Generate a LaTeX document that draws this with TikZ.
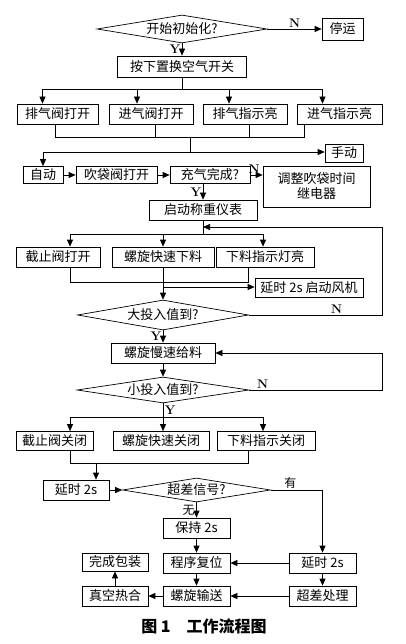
\documentclass[tikz,border=0pt]{standalone}
\usepackage{fontspec}
\newfontfamily\cjk{Noto Sans CJK SC}
\usetikzlibrary{arrows.meta,shapes.geometric}

\begin{document}
\begin{tikzpicture}[->,>={Triangle[length=7pt,width=6pt]},x=1pt,y=-1pt,line width=0.7pt,font=\cjk\fontsize{13}{15}\selectfont]
\tikzstyle{proc}=[draw,rectangle,inner sep=0pt,minimum height=20pt]
\tikzstyle{cond}=[draw,diamond,inner sep=0pt,aspect=1]
\tikzstyle{yn}=[font=\bfseries\fontsize{12.5}{13}\selectfont,inner sep=1.5pt]
\useasboundingbox (0,0) rectangle (405,644);
\node[cond,minimum width=170pt,minimum height=28pt,label={center:开始初始化?}] (init) at (182,29) {};
\node[proc,minimum width=41pt,minimum height=22pt] (stop) at (342.5,29) {停运};
\node[proc,minimum width=129pt,minimum height=21pt] (swap) at (182,66.5) {按下置换空气开关};
\node[proc,minimum width=81pt] (exhopen) at (57.5,114) {排气阀打开};
\node[proc,minimum width=84pt] (inopen) at (151,114) {进气阀打开};
\node[proc,minimum width=84pt] (exhlamp) at (245,114) {排气指示亮};
\node[proc,minimum width=85pt] (inlamp) at (339.5,114) {进气指示亮};
\node[proc,minimum width=38pt,minimum height=18pt] (manual) at (344,153) {手动};
\node[proc,minimum width=40pt,minimum height=17pt] (auto) at (43,175) {自动};
\node[proc,minimum width=81pt,minimum height=17pt] (blow) at (116.5,175) {吹袋阀打开};
\node[proc,minimum width=80pt,minimum height=17pt] (inflate) at (210,175) {充气完成?};
\node[proc,minimum width=107pt,minimum height=41pt,align=center] (adjust) at (316.5,186.5) {调整吹袋时间\\继电器};
\node[proc,minimum width=108pt] (weigh) at (203,210) {启动称重仪表};
\node[proc,minimum width=84pt] (cutopen) at (58,257) {截止阀打开};
\node[proc,minimum width=102pt] (fastfeed) at (163,257) {螺旋快速下料};
\node[proc,minimum width=98pt] (feedlamp) at (265,257) {下料指示灯亮};
\node[proc,minimum width=108pt,minimum height=19pt] (fan) at (309,287.5) {延时 2s 启动风机};
\node[cond,minimum width=171pt,minimum height=30pt,label={center:大投入值到?}] (bigdose) at (163,315) {};
\node[proc,minimum width=104pt] (slowfeed) at (163,353) {螺旋慢速给料};
\node[cond,minimum width=172pt,minimum height=26pt,label={center:小投入值到?}] (smalldose) at (163,390) {};
\node[proc,minimum width=77pt,minimum height=19pt] (cutclose) at (54.5,441) {截止阀关闭};
\node[proc,minimum width=96pt,minimum height=19pt] (fastclose) at (161,441) {螺旋快速关闭};
\node[proc,minimum width=98pt,minimum height=19pt] (lampoff) at (266,441) {下料指示关闭};
\node[proc,minimum width=66pt] (delayA) at (76,490) {延时 2s};
\node[cond,minimum width=148pt,minimum height=24pt,label={center:超差信号?}] (overerr) at (196.5,490) {};
\node[proc,minimum width=67pt] (hold) at (196.5,528) {保持 2s};
\node[proc,minimum width=67pt] (reset) at (196.5,563) {程序复位};
\node[proc,minimum width=67pt] (delayB) at (322.5,563) {延时 2s};
\node[proc,minimum width=67pt] (errproc) at (322.5,596) {超差处理};
\node[proc,minimum width=67pt] (convey) at (196.5,596) {螺旋输送};
\node[proc,minimum width=66pt] (seal) at (115,596) {真空热合};
\node[proc,minimum width=66pt,minimum height=18pt] (pack) at (115,562) {完成包装};
\node[font=\cjk\bfseries\fontsize{16}{18}\selectfont] (title) at (204,626) {图 1\quad 工作流程图};
% start and air switch
\draw (init) -- node[yn,above]{N} (stop);
\draw (init) -- node[yn,left]{Y} (swap);
\coordinate (splitA) at (182,89);
\draw[-] (swap) -- (splitA);
\draw (splitA) -| ([xshift=-15pt]exhopen.north);
\draw (splitA) -| ([xshift=-14pt]inopen.north);
\draw (splitA) -| ([xshift=-16pt]exhlamp.north);
\draw (splitA) -| ([xshift=-17pt]inlamp.north);
\coordinate (joinA) at (190,137);
\draw[-] ([xshift=-2pt]exhopen.south) |- (joinA);
\draw[-] ([xshift=4pt]inopen.south) |- (joinA);
\draw[-] ([xshift=4pt]exhlamp.south) |- (joinA);
\draw[-] ([xshift=-35pt]inlamp.south) |- (joinA);
\coordinate (joinB) at (190,152);
\draw[-] (joinA) -- (joinB);
\draw (joinB) -| (auto);
\draw (joinB) -- (joinB -| manual.west);
% auto mode
\draw (auto) -- (blow);
\draw (blow) -- (inflate);
\draw (inflate.east) -- node[yn,above,pos=0.3]{N} (inflate.east -| adjust.west);
\draw (inflate.south -| weigh.north) -- node[yn,left]{Y} (weigh.north);
\coordinate (splitB) at (203,234);
\coordinate (backA) at (203,227);
\draw[-] (weigh) -- (splitB);
\draw (splitB) -| ([xshift=12pt]cutopen.north);
\draw (splitB) -| (fastfeed);
\draw (splitB) -| ([xshift=-2pt]feedlamp.north);
\coordinate (joinC) at (163,282);
\draw[-] ([xshift=12pt]cutopen.south) |- (joinC);
\draw[-] ([xshift=-17pt]feedlamp.south) |- (joinC);
\coordinate (tapA) at (163,287);
\draw (tapA) -- (tapA -| fan.west);
\draw (fastfeed) -- (bigdose);
\coordinate (turnA) at (382,227);
\draw (bigdose.east) -| node[yn,above,pos=0.33]{N} (turnA) -- (backA);
% slow feed
\draw (bigdose) -- node[yn,left]{Y} (slowfeed);
\draw (slowfeed) -- (smalldose);
\coordinate (turnB) at (382,353);
\draw (smalldose.east) -| node[yn,above,pos=0.05]{N} (turnB) -- (slowfeed.east);
\coordinate (splitC) at (163,417);
\draw[-] (smalldose) -- node[yn,right]{Y} (splitC);
\draw (splitC) -| ([xshift=15.5pt]cutclose.north);
\draw (splitC) -| ([xshift=2pt]fastclose.north);
\draw (splitC) -| ([xshift=-3pt]lampoff.north);
\coordinate (joinD) at (96,463);
\draw[-] ([xshift=15.5pt]cutclose.south) |- (joinD);
\draw[-] ([xshift=-18pt]lampoff.south) |- (joinD);
\draw (joinD) -- (joinD |- delayA.north);
% error check
\draw (delayA) -- (overerr);
\draw (overerr.east) -| node[yn,above,pos=0.19,font=\cjk\fontsize{12}{13}\selectfont]{有} (delayB);
\draw (overerr) -- node[yn,left,font=\cjk\fontsize{12}{13}\selectfont]{无} (hold);
\draw (hold) -- (reset);
\draw (delayB) -- (reset);
\draw (delayB) -- (errproc);
\draw (errproc) -- (convey);
\draw (reset) -- (convey);
\draw (convey) -- (seal);
\draw (seal) -- (pack);
\end{tikzpicture}
\end{document}
